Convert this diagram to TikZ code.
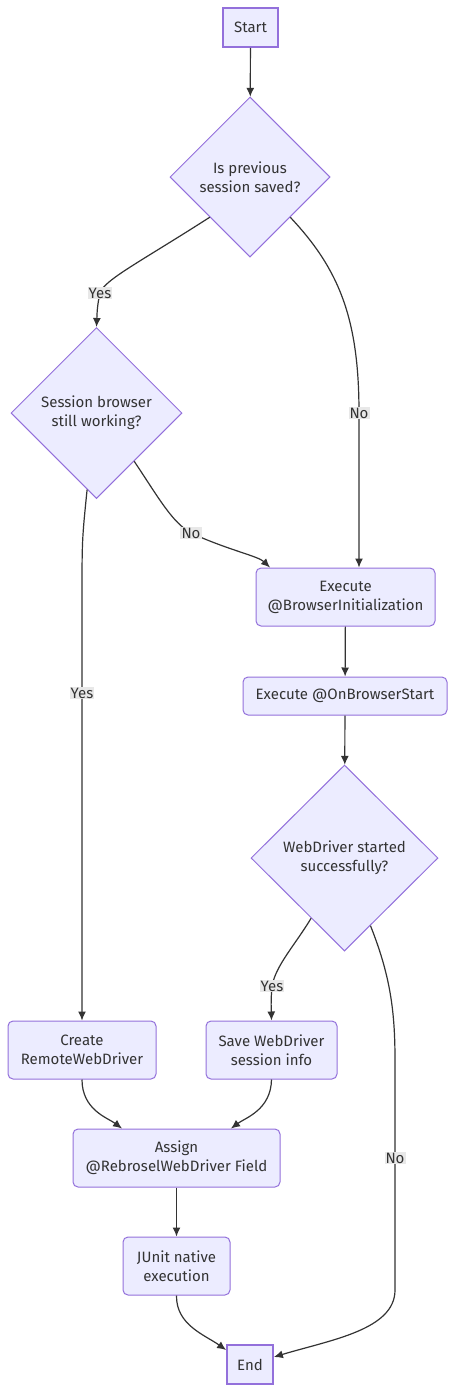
\documentclass[tikz,border=0pt]{standalone}
\usepackage{fontspec}
\setmainfont{Fira Sans}
\usepackage{xcolor}
\usepackage{tikz}
\usetikzlibrary{shapes.geometric, arrows.meta}
\definecolor{nodefill}{HTML}{ECECFF}
\definecolor{nodeline}{HTML}{9370DB}
\definecolor{edgeline}{HTML}{333333}
\definecolor{lblfill}{HTML}{E8E8E8}

\begin{document}
\begin{tikzpicture}[x=1pt, y=1pt,
  every node/.style={font=\fontsize{15}{19}\selectfont, text=edgeline, align=center},
  term/.style={draw=nodeline, fill=nodefill, line width=1.8pt, inner sep=0pt},
  box/.style={draw=nodeline, fill=nodefill, line width=1pt, rounded corners=5pt, inner sep=0pt},
  decision/.style={diamond, draw=nodeline, fill=nodefill, line width=1pt, inner sep=0pt},
  lbl/.style={fill=lblfill, inner sep=1pt},
  edge/.style={draw=edgeline, line width=1.2pt, -{Latex[length=9pt, width=8pt]}}]
\useasboundingbox (0,0) rectangle (456,-1392);
% nodes
\node[term, minimum width=55pt, minimum height=39pt] (start) at (250.5,-27.5) {Start};
\node[decision, minimum width=160pt, minimum height=160pt] (saved) at (250,-177) {Is previous\\session saved?};
\node[decision, minimum width=171pt, minimum height=171pt] (working) at (96.5,-413) {Session browser\\still working?};
\node[box, minimum width=179pt, minimum height=58pt] (init) at (345.5,-597) {Execute\\@BrowserInitialization};
\node[box, minimum width=204pt, minimum height=38pt] (onstart) at (345,-696) {Execute @OnBrowserStart};
\node[decision, minimum width=187pt, minimum height=186pt] (started) at (344.5,-858) {WebDriver started\\successfully?};
\node[box, minimum width=148pt, minimum height=58pt] (create) at (82,-1050) {Create\\RemoteWebDriver};
\node[box, minimum width=131pt, minimum height=58pt] (savesession) at (271.5,-1050) {Save WebDriver\\session info};
\node[box, minimum width=207pt, minimum height=58pt] (assign) at (176.5,-1158) {Assign\\@RebroselWebDriver Field};
\node[box, minimum width=107pt, minimum height=58pt] (junit) at (176.5,-1266) {JUnit native\\execution};
\node[term, minimum width=46pt, minimum height=39pt] (end) at (250,-1364.5) {End};
% edges
\draw[edge] (start) -- (saved);
\draw[edge] (saved.south west) .. controls (140,-262) and (104,-280) .. (100,-293) node[lbl] {Yes}
  .. controls (97,-306) and (97,-315) .. (working.north);
\draw[edge] (saved.south east) .. controls (340,-270) and (359,-320) .. (359,-413) node[lbl] {No}
  -- ([xshift=13.5pt]init.north);
\draw[edge] (working.263) .. controls (82,-540) .. (82,-600) -- (82,-693) node[lbl] {Yes}
  -- (create.north);
\draw[edge] (working.308) .. controls (160,-500) and (172,-522) .. (191,-533) node[lbl] {No}
  .. controls (228,-550) and (258,-556) .. ([xshift=-75.5pt]init.north);
\draw[edge] (init) -- (onstart);
\draw[edge] (onstart) -- (started);
\draw[edge] (started.241) .. controls (295,-945) and (276,-965) .. (272,-986) node[lbl] {Yes}
  .. controls (271,-1000) .. (savesession.north);
\draw[edge] (started.291) .. controls (390,-975) and (395,-1010) .. (395,-1060) -- (395,-1158) node[lbl] {No}
  -- (395,-1290) .. controls (395,-1330) and (330,-1340) .. ([yshift=7.5pt]end.east);
\draw[edge] (create.south) .. controls (82,-1110) and (108,-1118) .. ([xshift=-54.5pt]assign.north);
\draw[edge] (savesession.south) .. controls (271,-1110) and (245,-1118) .. ([xshift=54.5pt]assign.north);
\draw[edge] (assign) -- (junit);
\draw[edge] (junit.south) .. controls (176,-1325) and (205,-1335) .. ([yshift=14.5pt]end.west);
\end{tikzpicture}
\end{document}
